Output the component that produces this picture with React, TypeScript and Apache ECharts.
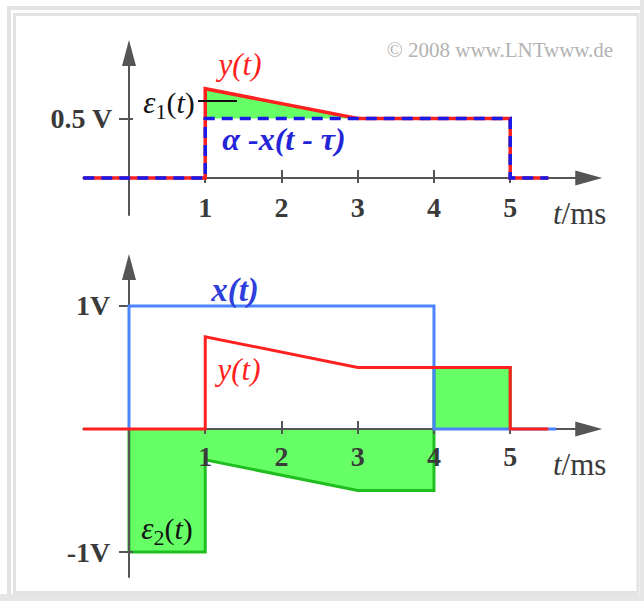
import React, { useEffect, useRef } from 'react';
import * as echarts from 'echarts';

// Time axis (ms)
const T_TICKS = [1, 2, 3, 4, 5];
const T_MIN = -0.6;
const T_MAX = 6.03;

// Upper panel value axis (V)
const TOP_Y_TICKS = [0.5];
const TOP_Y_LABELS = ['0.5 V'];
const TOP_Y_MIN = -0.311;
const TOP_Y_MAX = 1.05;

// Lower panel value axis (V)
const BOTTOM_Y_TICKS = [-1, 1];
const BOTTOM_Y_LABELS = ['-1V', '1V'];
const BOTTOM_Y_MIN = -1.203;
const BOTTOM_Y_MAX = 1.317;

// y(t): output signal, [t in ms, value in V]
const Y_SIGNAL = [[-0.6, 0], [1, 0], [1, 0.75], [3, 0.5], [5, 0.5], [5, 0], [5.5, 0]];
// alpha * x(t - tau): ideally delayed and attenuated input
const X_DELAYED = [[-0.6, 0], [1, 0], [1, 0.5], [5, 0.5], [5, 0], [5.5, 0]];
// eps1(t): the part of y(t) above alpha * x(t - tau)
const E1_UPPER = [[1, 0.75], [3, 0.5]];
const E1_BASE = 0.5;
// x(t): input pulse
const X_SIGNAL = [[0, 0], [0, 1], [4, 1], [4, 0], [5.6, 0]];
// eps2(t) = y(t) - x(t)
const E2_SIGNAL = [[0, 0], [0, -1], [1, -1], [1, -0.25], [3, -0.5], [4, -0.5], [4, 0], [4, 0.5], [5, 0.5], [5, 0]];

const SERIF = '"Liberation Serif", "Times New Roman", serif';
const AXIS = '#555555';
const LABEL = '#3a3a3a';
const RED = '#ff2020';
const BLUE_DASH = '#1a1ae8';
const BLUE = '#4a84ff';
const GREEN_FILL = '#66ff66';
const GREEN_LINE = '#1fbf1f';
const FRAME = '#e3e3e3';

const axisLineStyle = { color: AXIS, width: 2 };

// The tick labels of an on-zero axis are laid out from the grid edge,
// so their margins are measured from there.
function timeAxes(gridIndex: number, labelMargin: number) {
  const base = {
    type: 'value',
    gridIndex,
    min: T_MIN,
    max: T_MAX,
    position: 'bottom',
    splitLine: { show: false },
    z: 1,
  };
  return [
    {
      ...base,
      axisLine: {
        show: true,
        onZero: true,
        symbol: ['none', 'triangle'],
        symbolSize: [15, 27],
        lineStyle: axisLineStyle,
      },
      axisTick: { show: true, inside: true, length: 8, customValues: T_TICKS, lineStyle: axisLineStyle },
      axisLabel: {
        show: true,
        customValues: T_TICKS,
        margin: labelMargin,
        verticalAlign: 'middle',
        fontFamily: SERIF,
        fontSize: 28,
        fontWeight: 'bold',
        color: LABEL,
      },
    },
    {
      ...base,
      axisLine: { show: false, onZero: true },
      axisTick: { show: true, inside: false, length: 5, customValues: T_TICKS, lineStyle: axisLineStyle },
      axisLabel: { show: false },
    },
  ];
}

function valueAxes(gridIndex: number, min: number, max: number, ticks: number[], labels: string[], margin: number) {
  const base = {
    type: 'value',
    gridIndex,
    min,
    max,
    position: 'left',
    splitLine: { show: false },
    z: 1,
  };
  return [
    {
      ...base,
      axisLine: {
        show: true,
        onZero: true,
        symbol: ['none', 'triangle'],
        symbolSize: [14, 26],
        lineStyle: axisLineStyle,
      },
      axisTick: { show: true, inside: false, length: 10, customValues: ticks, lineStyle: axisLineStyle },
      axisLabel: {
        show: true,
        customValues: ticks,
        margin,
        formatter: (v: number) => {
          const i = ticks.findIndex((t) => Math.abs(t - v) < 1e-9);
          return i >= 0 ? labels[i] : '';
        },
        fontFamily: SERIF,
        fontSize: 28,
        fontWeight: 'bold',
        color: LABEL,
      },
    },
    {
      ...base,
      axisLine: { show: false, onZero: true },
      axisTick: { show: true, inside: true, length: 4, customValues: ticks, lineStyle: axisLineStyle },
      axisLabel: { show: false },
    },
  ];
}

function text(x: number, y: number, content: string, style: Record<string, unknown>) {
  return {
    type: 'text',
    x,
    y,
    z: 100,
    style: {
      text: content,
      fontFamily: SERIF,
      textAlign: 'center',
      align: 'center',
      textVerticalAlign: 'middle',
      verticalAlign: 'middle',
      ...style,
    },
  };
}

function epsLabel(x: number, y: number, sub: string) {
  return {
    type: 'text',
    x,
    y,
    z: 100,
    style: {
      text: `{e|ε}{s|${sub}}{p|(}{t|t}{p|)}`,
      fontFamily: SERIF,
      fill: '#111111',
      textAlign: 'center',
      align: 'center',
      textVerticalAlign: 'middle',
      verticalAlign: 'middle',
      rich: {
        e: { fontFamily: SERIF, fontSize: 31, fontStyle: 'italic', fill: '#111111', color: '#111111', lineHeight: 40, verticalAlign: 'middle' },
        s: { fontFamily: SERIF, fontSize: 22, fill: '#111111', color: '#111111', lineHeight: 22, verticalAlign: 'bottom' },
        p: { fontFamily: SERIF, fontSize: 30, fill: '#111111', color: '#111111', lineHeight: 40, verticalAlign: 'middle' },
        t: { fontFamily: SERIF, fontSize: 30, fontStyle: 'italic', fill: '#111111', color: '#111111', lineHeight: 40, verticalAlign: 'middle' },
      },
    },
  };
}

function tmsLabel(x: number, y: number) {
  return {
    type: 'text',
    x,
    y,
    z: 100,
    style: {
      text: '{i|t}{n|/ms}',
      fontFamily: SERIF,
      textAlign: 'left',
      align: 'left',
      textVerticalAlign: 'middle',
      verticalAlign: 'middle',
      rich: {
        i: { fontFamily: SERIF, fontSize: 31, fontStyle: 'italic', fill: LABEL, color: LABEL },
        n: { fontFamily: SERIF, fontSize: 31, fill: LABEL, color: LABEL },
      },
    },
  };
}

const option = {
  animation: false,
  backgroundColor: '#ffffff',
  grid: [
    { left: 83.25, top: 53, width: 505.5, height: 162, outerBoundsMode: 'none', containLabel: false },
    { left: 83.25, top: 267, width: 505.5, height: 310, outerBoundsMode: 'none', containLabel: false },
  ],
  xAxis: [...timeAxes(0, -8), ...timeAxes(1, -121)],
  yAxis: [
    ...valueAxes(0, TOP_Y_MIN, TOP_Y_MAX, TOP_Y_TICKS, TOP_Y_LABELS, -29),
    ...valueAxes(1, BOTTOM_Y_MIN, BOTTOM_Y_MAX, BOTTOM_Y_TICKS, BOTTOM_Y_LABELS, -27),
  ],
  series: [
    {
      name: 'ε1(t)',
      type: 'line',
      xAxisIndex: 0,
      yAxisIndex: 0,
      data: E1_UPPER,
      symbol: 'none',
      silent: true,
      z: 0,
      lineStyle: { width: 0 },
      areaStyle: { origin: E1_BASE, color: GREEN_FILL, opacity: 1 },
    },
    {
      name: 'y(t)',
      type: 'line',
      xAxisIndex: 0,
      yAxisIndex: 0,
      data: Y_SIGNAL,
      symbol: 'none',
      silent: true,
      lineStyle: { color: RED, width: 3.5, join: 'miter' },
    },
    {
      name: 'α·x(t - τ)',
      type: 'line',
      xAxisIndex: 0,
      yAxisIndex: 0,
      data: X_DELAYED,
      symbol: 'none',
      silent: true,
      lineStyle: { color: BLUE_DASH, width: 3.5, type: [11, 7], join: 'miter' },
    },
    {
      name: 'ε2(t)',
      type: 'line',
      xAxisIndex: 2,
      yAxisIndex: 2,
      data: E2_SIGNAL,
      symbol: 'none',
      silent: true,
      z: 0,
      lineStyle: { color: GREEN_LINE, width: 3, join: 'miter' },
      areaStyle: { origin: 0, color: GREEN_FILL, opacity: 1 },
    },
    {
      name: 'x(t)',
      type: 'line',
      xAxisIndex: 2,
      yAxisIndex: 2,
      data: X_SIGNAL,
      symbol: 'none',
      silent: true,
      lineStyle: { color: BLUE, width: 3, join: 'miter' },
    },
    {
      name: 'y(t) ',
      type: 'line',
      xAxisIndex: 2,
      yAxisIndex: 2,
      data: Y_SIGNAL,
      symbol: 'none',
      silent: true,
      lineStyle: { color: RED, width: 3, join: 'miter' },
    },
  ],
  graphic: [
    // double frame around the figure
    { type: 'rect', z: 50, shape: { x: 9, y: 8, width: 660, height: 660 }, style: { fill: 'none', stroke: FRAME, lineWidth: 4 } },
    { type: 'rect', z: 50, shape: { x: 14.5, y: 14.5, width: 623.5, height: 578 }, style: { fill: 'none', stroke: FRAME, lineWidth: 3 } },
    { type: 'rect', z: 50, shape: { x: 0, y: 594, width: 644, height: 7 }, style: { fill: '#e6e6e6' } },
    { type: 'rect', z: 50, shape: { x: 640, y: 0, width: 4, height: 601 }, style: { fill: '#e6e6e6' } },

    text(500, 50, '© 2008 www.LNTwww.de', { fontSize: 21, fill: '#b3b3b3' }),

    // upper panel annotations
    text(240, 64, 'y(t)', { fontSize: 31, fontStyle: 'italic', fill: RED }),
    epsLabel(169, 102, '1'),
    { type: 'line', z: 100, shape: { x1: 198, y1: 101, x2: 237, y2: 101 }, style: { stroke: '#111111', lineWidth: 2 } },
    text(284, 139, 'α -x(t - τ)', { fontSize: 32, fontStyle: 'italic', fontWeight: 'bold', fill: '#2424d8' }),
    tmsLabel(553, 213),

    // lower panel annotations
    text(235, 290, 'x(t)', { fontSize: 33, fontStyle: 'italic', fontWeight: 'bold', fill: '#2e3fdc' }),
    text(239, 369, 'y(t)', { fontSize: 31, fontStyle: 'italic', fill: RED }),
    epsLabel(167, 528, '2'),
    tmsLabel(553, 464),
  ],
};

export default function App() {
  const ref = useRef<HTMLDivElement>(null);
  useEffect(() => {
    if (!ref.current) return;
    const chart = echarts.init(ref.current, null, { renderer: 'svg' });
    chart.setOption(option as any);
    return () => chart.dispose();
  }, []);
  return (
    <div
      ref={ref}
      style={{ position: 'absolute', left: 0, top: 0, width: 644, height: 601, background: '#ffffff' }}
    />
  );
}
